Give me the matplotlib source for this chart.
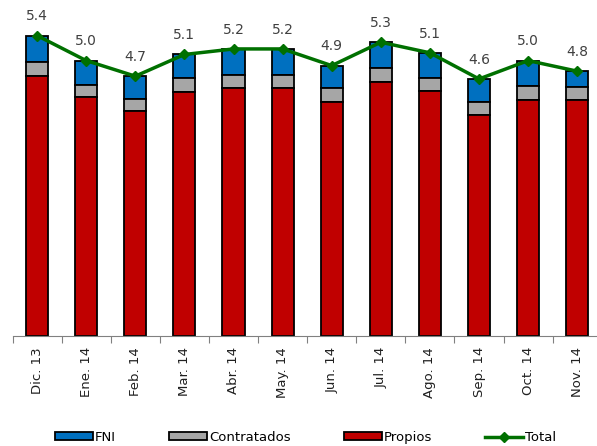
"""
Composición mensual (FNI / Contratados / Propios) con línea de total.
Salida: out.png
"""

import matplotlib.pyplot as plt
import numpy as np

# categorías del eje x
MESES = ["Dic. 13", "Ene. 14", "Feb. 14", "Mar. 14", "Abr. 14", "May. 14",
         "Jun. 14", "Jul. 14", "Ago. 14", "Sep. 14", "Oct. 14", "Nov. 14"]

# series
PROPIOS = [4.68, 4.30, 4.04, 4.38, 4.46, 4.46, 4.21, 4.56, 4.40, 3.98, 4.24, 4.24]
CONTRATADOS = [0.25, 0.21, 0.22, 0.25, 0.24, 0.24, 0.25, 0.25, 0.24, 0.22, 0.25, 0.24]
FNI = [0.47, 0.44, 0.41, 0.43, 0.46, 0.46, 0.40, 0.47, 0.45, 0.42, 0.46, 0.28]

# colores
FNI_COLOR = "#0070C0"
CONTR_COLOR = "#A6A6A6"
PROPIOS_COLOR = "#C00000"
TOTAL_COLOR = "#007000"


def main() -> None:
    fig = plt.figure(figsize=(5.97, 4.46), dpi=100)
    ax = fig.add_axes([0.021, 0.247, 0.987, 0.748])

    x = np.arange(len(MESES))
    propios = np.array(PROPIOS)
    contr = np.array(CONTRATADOS)
    fni = np.array(FNI)
    total = propios + contr + fni

    w = 0.45
    kw = dict(width=w, edgecolor="black", linewidth=1.3, zorder=2)
    b_fni = ax.bar(x, fni, bottom=propios + contr, color=FNI_COLOR, **kw)
    b_con = ax.bar(x, contr, bottom=propios, color=CONTR_COLOR, **kw)
    b_pro = ax.bar(x, propios, color=PROPIOS_COLOR, **kw)
    l_tot, = ax.plot(x, total, color=TOTAL_COLOR, linewidth=2.5, marker="D",
                     markersize=5, zorder=3)

    for xi, t in zip(x, total):
        ax.text(xi, t + 0.22, f"{t:.1f}", ha="center", va="bottom",
                fontsize=10, color="#404040")

    ax.set_xlim(-0.5, len(MESES) - 0.5)
    ax.set_ylim(0, 6)

    for s in ["top", "right", "left"]:
        ax.spines[s].set_visible(False)
    ax.spines["bottom"].set_color("#808080")
    ax.set_yticks([])

    # marcas entre categorías, etiquetas centradas
    ax.set_xticks(np.arange(len(MESES) + 1) - 0.5)
    ax.set_xticklabels([])
    ax.tick_params(axis="x", which="major", length=5, color="#808080")
    ax.set_xticks(x, minor=True)
    ax.set_xticklabels(MESES, minor=True, rotation=90, fontsize=9.5,
                       color="#202020")
    ax.tick_params(axis="x", which="minor", length=0, pad=8)

    fig.legend([b_fni, b_con, b_pro, l_tot],
               ["FNI", "Contratados", "Propios", "Total"],
               loc="lower center", ncol=4, frameon=False,
               bbox_to_anchor=(0.512, -0.022), fontsize=9.5, handlelength=2.9,
               handleheight=0.55, columnspacing=4.0, handletextpad=0.15)

    plt.savefig("out.png", dpi=100)
    plt.close(fig)


if __name__ == "__main__":
    main()
